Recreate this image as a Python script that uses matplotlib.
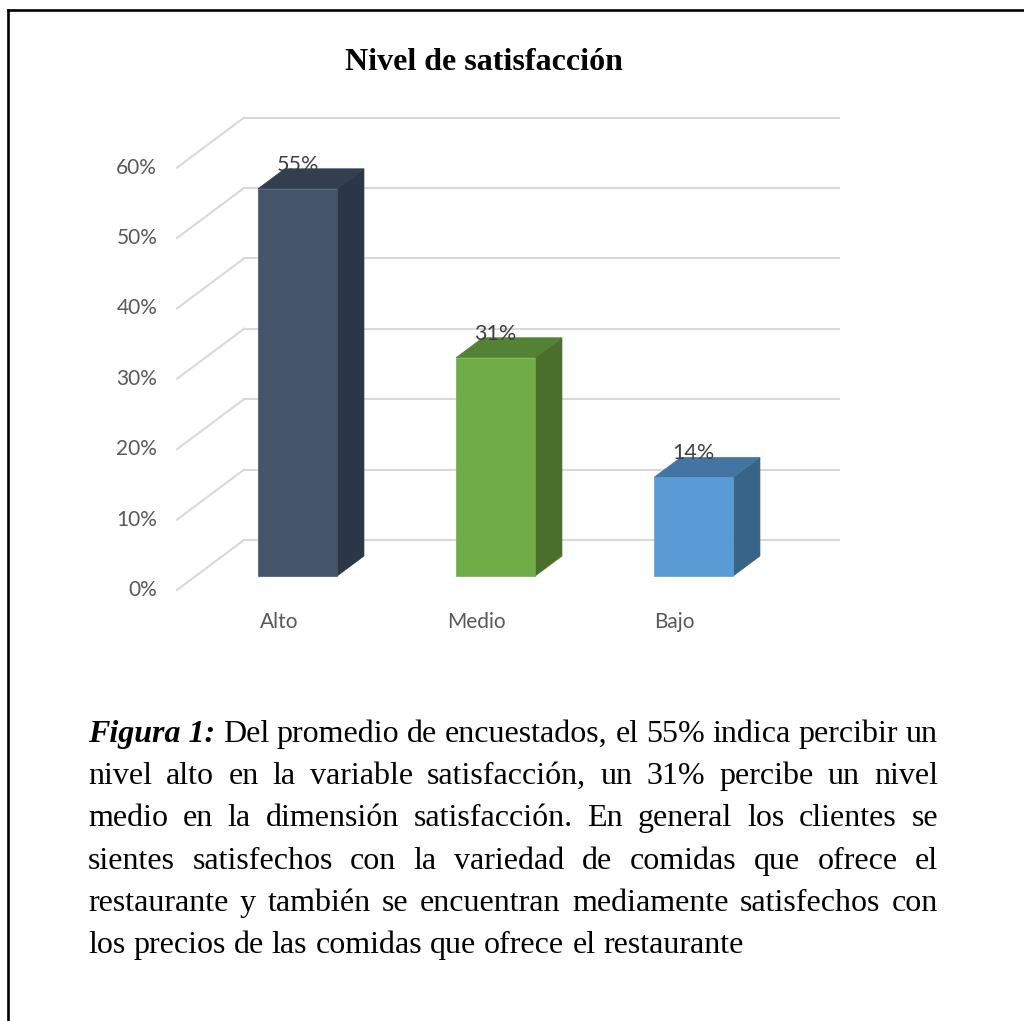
import matplotlib
matplotlib.use("Agg")
import matplotlib.pyplot as plt
from matplotlib.patches import Polygon
from matplotlib.lines import Line2D

# ---- data ----
categories = ["Alto", "Medio", "Bajo"]
values = [55, 31, 14]
value_labels = ["55%", "31%", "14%"]
ticks = [0, 10, 20, 30, 40, 50, 60]
tick_labels = ["0%", "10%", "20%", "30%", "40%", "50%", "60%"]
title = "Nivel de satisfacción"
caption_bold = "Figura 1:"
caption_lines = [
    "Del promedio de encuestados, el 55% indica percibir un",
    "nivel alto en la variable satisfacción, un 31% percibe un nivel",
    "medio en la dimensión satisfacción. En general los clientes se",
    "sientes satisfechos con la variedad de comidas que ofrece el",
    "restaurante y también se encuentran mediamente satisfechos con",
    "los precios de las comidas que ofrece el restaurante",
]

# ---- style ----
front_c = ["#44546A", "#70AD47", "#5B9BD5"]
top_c = ["#333F50", "#548235", "#4475A2"]
side_c = ["#2B3646", "#4A6E2C", "#386488"]
grid_c = "#D9D9D9"
txt_c = "#595959"

W, H = 1024, 1021
fig = plt.figure(figsize=(W / 100, H / 100), dpi=100)
fig.patch.set_facecolor("white")
ax = fig.add_axes([0, 0, 1, 1])
ax.set_axis_off()

px_x = 198.0     # pixels per category unit
px_y = 7.04      # pixels per percent
x0_pix = 278.8   # pixel x of category 0 on front plane
y0_pix = 590.0   # pixel y (from top) of 0% on front plane
ax.set_xlim(-x0_pix / px_x, (W - x0_pix) / px_x)
ax.set_ylim(-(H - y0_pix) / px_y, y0_pix / px_y)

kx = 67.0 / px_x   # depth offset per unit depth
kv = 50.0 / px_y


def P(x, v, t):
    return (x + kx * t, v + kv * t)


xl = -0.514
xr = 2.491
# gridlines (walls)
for g in ticks:
    ax.add_line(Line2D(*zip(P(xl, g, 0), P(xl, g, 1)), color=grid_c, lw=1.5, zorder=1))
    ax.add_line(Line2D(*zip(P(xl, g, 1), P(xr, g, 1)), color=grid_c, lw=1.5, zorder=1))

tf, tb = 0.28, 0.68
bw = 0.40
for i, (v, lab) in enumerate(zip(values, value_labels)):
    a, b = i - bw / 2, i + bw / 2
    front = [P(a, 0, tf), P(b, 0, tf), P(b, v, tf), P(a, v, tf)]
    top = [P(a, v, tf), P(b, v, tf), P(b, v, tb), P(a, v, tb)]
    side = [P(b, 0, tf), P(b, 0, tb), P(b, v, tb), P(b, v, tf)]
    ax.add_patch(Polygon(side, closed=True, facecolor=side_c[i], edgecolor=side_c[i], lw=0.5, zorder=3))
    ax.add_patch(Polygon(top, closed=True, facecolor=top_c[i], edgecolor=top_c[i], lw=0.5, zorder=3))
    ax.add_patch(Polygon(front, closed=True, facecolor=front_c[i], edgecolor=front_c[i], lw=0.5, zorder=4))
    ax.annotate(lab, xy=P(i, v, tf), xytext=(0, 24), textcoords="offset pixels",
                ha="center", va="center", fontsize=15.5, family="Lato", color="#404040", zorder=6)

for g, tl in zip(ticks, tick_labels):
    ax.text(xl - 0.1, g, tl, ha="right", va="center", fontsize=15, family="Lato", color=txt_c)

for i, c in enumerate(categories):
    ax.text(i, -32 / px_y, c, ha="center", va="center", fontsize=15, family="Lato", color=txt_c)

# title
fig.text(484 / W, 1 - 63 / H, title, ha="center", va="center", fontsize=23,
         family="Liberation Serif", fontweight="bold")

# page border
fig.add_artist(Line2D([8 / W, 1.0], [1 - 10 / H, 1 - 10 / H], color="black", lw=1.9))
fig.add_artist(Line2D([8 / W, 8 / W], [0.0, 1 - 10 / H], color="black", lw=1.9))

# caption, justified
renderer = fig.canvas.get_renderer()
left, right = 88.0, 938.0
base0, lstep = 742.0, 42.2
fs = 23
for li, line in enumerate(caption_lines):
    words = []
    if li == 0:
        words.append((caption_bold, dict(fontweight="bold", fontstyle="italic")))
    words += [(w, {}) for w in line.split(" ")]
    y = 1 - (base0 + li * lstep) / H
    arts = []
    for w, kw in words:
        t = fig.text(0, y, w, ha="left", va="baseline", fontsize=fs,
                     family="Liberation Serif", **kw)
        arts.append(t)
    widths = [t.get_window_extent(renderer).width for t in arts]
    space = fs * 0.25 * 100 / 72
    if li < len(caption_lines) - 1:
        gap = (right - left - sum(widths)) / (len(arts) - 1)
    else:
        gap = space
    x = left
    for t, wdt in zip(arts, widths):
        t.set_x(x / W)
        x += wdt + gap

fig.savefig("out.png", dpi=100, facecolor="white")
